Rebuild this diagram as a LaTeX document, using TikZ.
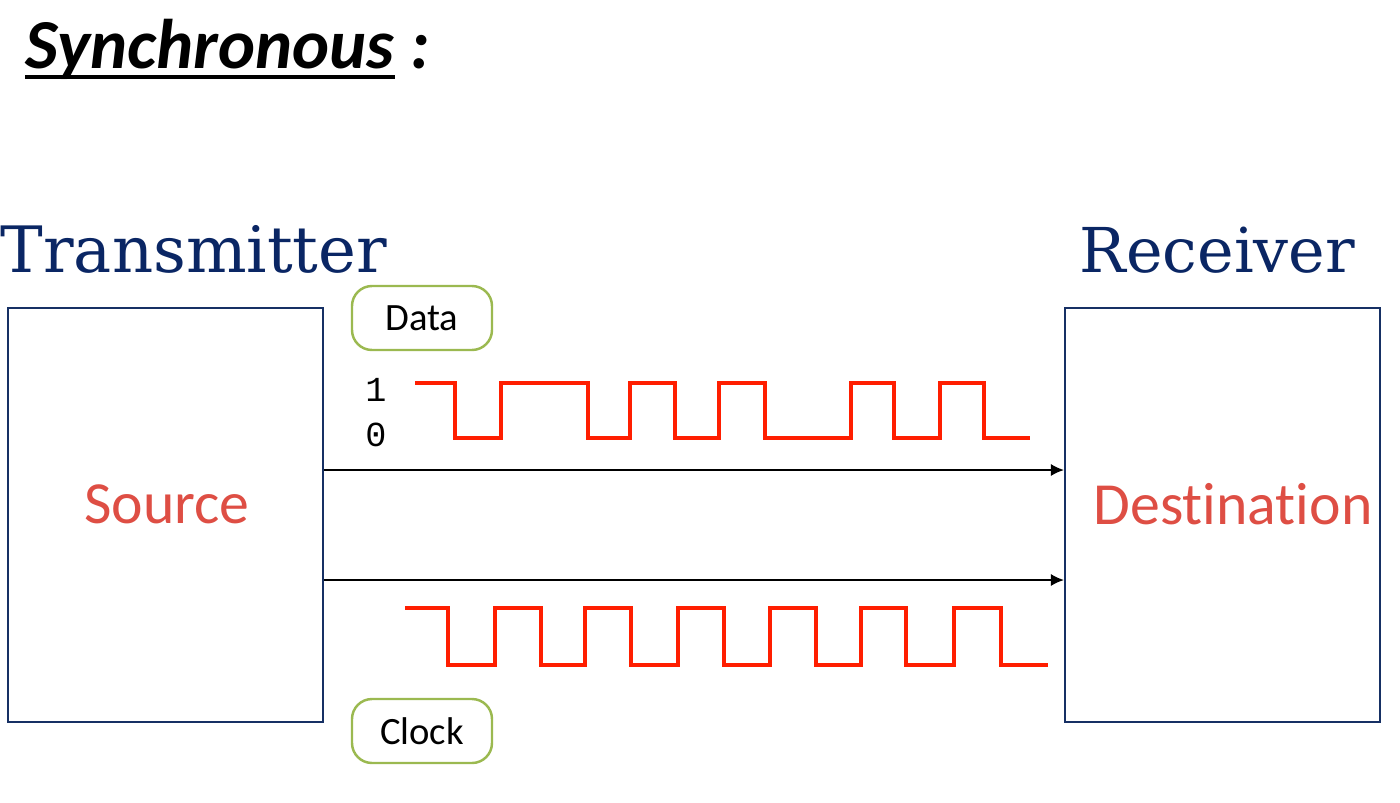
\documentclass[tikz,border=0pt]{standalone}
\usepackage{fontspec}
\setmainfont{Carlito}[Ligatures={NoCommon,NoContextual}]
\newfontfamily\serifhead{DejaVu Serif}
\newfontfamily\monodigits{Liberation Mono}
\usetikzlibrary{arrows.meta}
\definecolor{boxblue}{RGB}{22,48,100}
\definecolor{headblue}{RGB}{10,38,100}
\definecolor{txtred}{RGB}{222,78,68}
\definecolor{wavered}{RGB}{255,30,0}
\definecolor{tagolive}{RGB}{155,185,80}
\tikzset{
  unitbox/.style={draw=boxblue, line width=0.6pt, minimum width=3.15cm, minimum height=4.14cm, inner sep=0pt},
  tag/.style={draw=tagolive, line width=0.7pt, rounded corners=2mm, minimum width=1.40cm, minimum height=0.64cm, font=\fontsize{11}{13}\selectfont},
  wave/.style={wavered, line width=1pt, line join=miter},
  sig/.style={-{Latex[length=1.3mm, width=1.2mm]}, line width=0.45pt},
  unitname/.style={txtred, font=\fontsize{17}{20}\selectfont},
  head/.style={headblue, font=\serifhead\fontsize{18.2}{22}\selectfont, inner sep=0pt, anchor=base west}
}
\begin{document}
\begin{tikzpicture}[line cap=butt]
\useasboundingbox (0,0) rectangle (14,-8.02);
% title
\node[anchor=base west, inner sep=0pt, font=\bfseries\itshape\fontsize{20}{24}\selectfont] (title) at (0.25,-0.68) {Synchronous};
\node[anchor=base west, inner sep=0pt, font=\bfseries\itshape\fontsize{20}{24}\selectfont] (colon) at (4.10,-0.68) {:};
\draw[line width=1.3pt] ([yshift=-0.09cm]title.base west) -- ([yshift=-0.09cm]title.base east);
% transmitter and receiver
\node[head] (txhead) at (0.00,-2.72) {Transmitter};
\node[head, font=\serifhead\fontsize{17.6}{22}\selectfont] (rxhead) at (10.79,-2.72) {Receiver};
\node[unitbox] (src) at (1.655,-5.15) {};
\node[unitbox] (dst) at (12.225,-5.15) {};
\node[unitname] (srclbl) at (1.67,-5.04) {Source};
\node[unitname] (dstlbl) at (12.33,-5.04) {Destination};
% tags
\node[tag] (data) at (4.22,-3.18) {Data};
\node[tag] (clock) at (4.22,-7.31) {Clock};
\node[font=\monodigits\fontsize{10}{12}\selectfont] (one) at (3.76,-3.90) {1};
\node[font=\monodigits\fontsize{10}{12}\selectfont] (zero) at (3.76,-4.35) {0};
% lines
\draw[sig] (src.east |- 0,-4.70) -- (dst.west |- 0,-4.70);
\draw[sig] (src.east |- 0,-5.80) -- (dst.west |- 0,-5.80);
% data signal
\draw[wave] (4.15,-3.83) -| (4.55,-4.38) -| (5.01,-3.83) -| (5.88,-4.38) -| (6.30,-3.83)
  -| (6.75,-4.38) -| (7.19,-3.83) -| (7.65,-4.38) -| (8.51,-3.83) -| (8.94,-4.38)
  -| (9.40,-3.83) -| (9.84,-4.38) -- (10.30,-4.38);
% clock signal
\draw[wave] (4.05,-6.08) -| (4.48,-6.65) -| (4.95,-6.08) -| (5.41,-6.65) -| (5.85,-6.08)
  -| (6.31,-6.65) -| (6.78,-6.08) -| (7.24,-6.65) -| (7.70,-6.08) -| (8.16,-6.65)
  -| (8.61,-6.08) -| (9.06,-6.65) -| (9.54,-6.08) -| (10.01,-6.65) -- (10.48,-6.65);
\end{tikzpicture}
\end{document}
